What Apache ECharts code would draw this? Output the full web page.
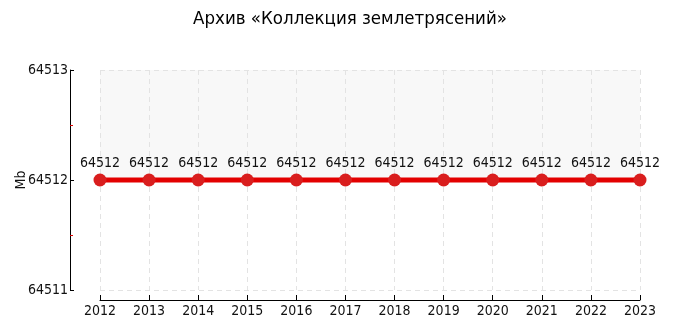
<!DOCTYPE html>
<html><head><meta charset="utf-8">
<script src="https://cdn.jsdelivr.net/npm/echarts@6/dist/echarts.min.js"></script>
<style>html,body{margin:0;padding:0;background:#fff}#c{width:700px;height:325px}</style>
</head><body><div id="c"></div>
<script>
const titleText = 'Архив «Коллекция землетрясений»';
const yName = 'Mb';
const categories = ['2012','2013','2014','2015','2016','2017','2018','2019','2020','2021','2022','2023'];
const values = [64512,64512,64512,64512,64512,64512,64512,64512,64512,64512,64512,64512];
const yMin = 64511, yMax = 64513, yStep = 1;

const chart = echarts.init(document.getElementById('c'));
const cfont = '"DejaVu Sans Condensed", "DejaVu Sans", sans-serif';
chart.setOption({
  animation: false,
  title: {text: titleText, left: 'center', top: 5,
    textStyle: {fontFamily: cfont, fontSize: 18.5, fontWeight: 'normal', color: '#000'}},
  grid: {left: 100, right: 60, top: 70, bottom: 35, containLabel: false, outerBoundsMode: 'none'},
  xAxis: {
    type: 'category', data: categories, boundaryGap: false, offset: 10,
    axisLine: {lineStyle: {color: '#000', width: 1}},
    axisTick: {show: true, inside: true, length: 5, lineStyle: {color: '#000'}},
    axisLabel: {fontFamily: cfont, fontSize: 14, color: '#111', margin: 4},
    splitLine: {show: true, lineStyle: {color: '#e3e3e3', type: [5, 4]}}
  },
  yAxis: {
    type: 'value', min: yMin, max: yMax, interval: yStep, offset: 30,
    name: yName, nameLocation: 'middle', nameGap: 42, nameMoveOverlap: false,
    nameTextStyle: {fontFamily: cfont, fontSize: 14, color: '#111'},
    axisLine: {show: true, lineStyle: {color: '#000', width: 1}},
    axisTick: {show: true, inside: true, length: 4, lineStyle: {color: '#000'}},
    minorTick: {show: true, splitNumber: 2, length: 3, lineStyle: {color: '#e00000'}},
    axisLabel: {fontFamily: cfont, fontSize: 14, color: '#111', margin: 2,
      formatter: v => String(v)},
    splitLine: {show: true, lineStyle: {color: '#e3e3e3', type: [5, 4]}},
    splitArea: {show: true, areaStyle: {color: ['rgba(255,255,255,0)', '#f8f8f8']}}
  },
  series: [{
    type: 'line', data: values, symbol: 'circle', symbolSize: 13,
    lineStyle: {color: '#e30000', width: 5},
    itemStyle: {color: '#d91e1e'},
    label: {show: true, position: 'top', distance: 3, fontFamily: cfont, fontSize: 14, color: '#111',
      formatter: p => String(p.value)}
  }]
});
</script></body></html>
